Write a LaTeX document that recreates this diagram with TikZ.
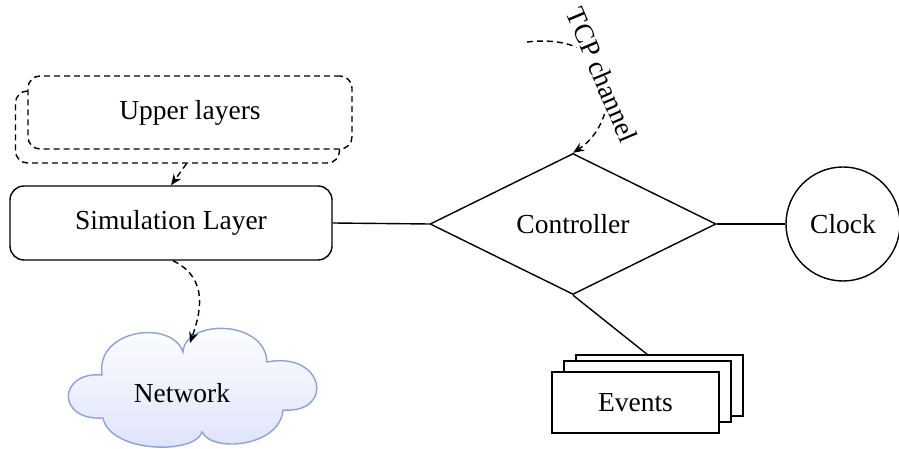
\documentclass[tikz,border=0pt]{standalone}
\usepackage{fontspec}
\setmainfont{Liberation Serif}
\usetikzlibrary{shapes.geometric,arrows.meta}
\definecolor{cloudline}{RGB}{140,162,220}
\definecolor{cloudfill}{RGB}{222,226,250}
\begin{document}
\begin{tikzpicture}[x=1pt,y=1pt,line width=1.4pt,
  every node/.style={font=\fontsize{27.5}{33}\selectfont,inner sep=0pt},
  dsh/.style={dash pattern=on 6pt off 4pt},
  arr/.style={-{Stealth[length=11pt,width=9pt,inset=3.5pt]}},
  upbox/.style={draw,dsh,rounded corners=12pt,fill=white,minimum width=324pt,minimum height=72pt},
  evbox/.style={draw,fill=white,minimum width=167pt,minimum height=61pt},
  cloudshape/.style={draw=cloudline,top color=white,bottom color=cloudfill}]
\useasboundingbox (0,0) rectangle (899,449);
% upper layers (two dashed boxes)
\node[upbox] (upback) at (177.5,322) {};
\node[upbox,minimum height=73pt] (upper) at (190,336.5) {Upper layers};
% simulation layer
\node[draw,rounded corners=14pt,minimum width=322pt,minimum height=74pt] (sim) at (171,226) {Simulation Layer};
% controller
\node[draw,diamond,aspect=2,minimum width=286pt,minimum height=141pt] (ctrl) at (573,225) {Controller};
% clock
\node[draw,circle,minimum size=114pt] (clock) at (843,225) {Clock};
% events (stack)
\node[evbox] (ev3) at (659.5,63.5) {};
\node[evbox] (ev2) at (647.5,57.5) {};
\node[evbox] (ev1) at (635.5,46.5) {Events};
% network cloud
\path[cloudshape] (102,74)
  .. controls (95,120) and (172,130) .. (183,97)
  .. controls (185,130) and (265,130) .. (267,87)
  .. controls (325,98) and (335,35) .. (283,39)
  .. controls (280,2) and (212,-4) .. (202,17)
  .. controls (195,-6) and (110,-4) .. (103,31)
  .. controls (56,28) and (58,78) .. cycle;
\node (netlabel) at (182,56) {Network};
% coordinates
\coordinate (evtop) at (648,94);
\coordinate (netin) at (190,106);
\coordinate (tcpstart) at (527,407);
% connectors
\draw (sim.east) -- (ctrl.west);
\draw (ctrl.east) -- (clock.west);
\draw (ctrl.south) -- (evtop);
\draw[dsh,arr] ([xshift=9pt]upback.south) -- (sim.north);
\draw[dsh,arr] ([xshift=2pt]sim.south) .. controls (210,170) and (200,135) .. (netin);
\draw[dsh,arr] (tcpstart) .. controls (625,418) and (622,328) .. (ctrl.north);
\node[rotate=-67,fill=white,inner sep=3pt] (tcp) at (602,374) {TCP channel};
\end{tikzpicture}
\end{document}
